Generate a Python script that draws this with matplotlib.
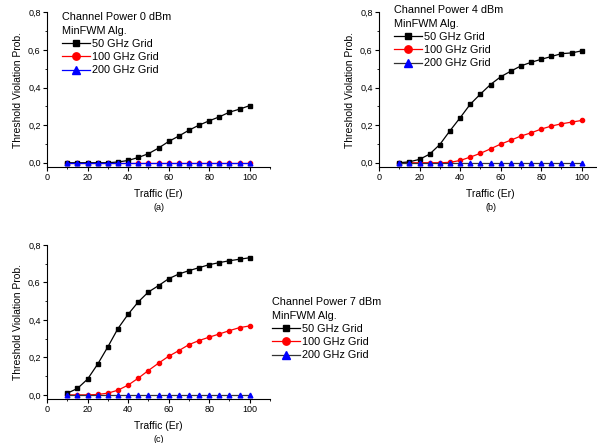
import matplotlib
matplotlib.use("Agg")
import matplotlib.pyplot as plt
from matplotlib.lines import Line2D
from matplotlib.ticker import MultipleLocator, FuncFormatter

plt.rcParams['font.family'] = ['Liberation Sans', 'DejaVu Sans']

traffic = [10, 15, 20, 25, 30, 35, 40, 45, 50, 55, 60, 65, 70, 75, 80, 85, 90, 95, 100]

# Panel (a): Channel Power 0 dBm
a_50 = [0, 0, 0, 0, 0, 0.004, 0.012, 0.028, 0.048, 0.078, 0.113, 0.142, 0.173, 0.200, 0.223, 0.244, 0.269, 0.285, 0.304]
a_100 = [0] * 19
a_200 = [0] * 19

# Panel (b): Channel Power 4 dBm
b_50 = [0, 0.005, 0.018, 0.046, 0.097, 0.170, 0.239, 0.311, 0.365, 0.416, 0.457, 0.487, 0.515, 0.534, 0.550, 0.565, 0.580, 0.584, 0.595]
b_100 = [0, 0, 0, 0, 0, 0.002, 0.012, 0.030, 0.050, 0.074, 0.099, 0.120, 0.142, 0.159, 0.179, 0.195, 0.207, 0.216, 0.225]
b_200 = [0] * 19

# Panel (c): Channel Power 7 dBm
c_50 = [0.009, 0.034, 0.084, 0.164, 0.256, 0.354, 0.430, 0.496, 0.549, 0.583, 0.620, 0.645, 0.663, 0.679, 0.695, 0.706, 0.716, 0.724, 0.732]
c_100 = [0, 0, 0, 0.002, 0.009, 0.025, 0.052, 0.089, 0.130, 0.169, 0.206, 0.236, 0.268, 0.290, 0.308, 0.325, 0.343, 0.359, 0.368]
c_200 = [0] * 19

series_labels = ["50 GHz Grid", "100 GHz Grid", "200 GHz Grid"]
titles = ["Channel Power 0 dBm\nMinFWM Alg.", "Channel Power 4 dBm\nMinFWM Alg.", "Channel Power 7 dBm\nMinFWM Alg."]
panel_tags = ["(a)", "(b)", "(c)"]

fig = plt.figure(figsize=(5.97, 4.43), dpi=100)

W, H = 597, 443
def pos(left_px, right_px, bottom_px, top_px):
    return [left_px / W, 1 - bottom_px / H, (right_px - left_px) / W, (bottom_px - top_px) / H]

axes_pos = [pos(47, 270, 166.7, 12.3), pos(379, 602, 166.7, 12.3), pos(47, 270, 398.8, 245)]
data = [(a_50, a_100, a_200), (b_50, b_100, b_200), (c_50, c_100, c_200)]
line200_colors = ['#0000ff', '#333333', '#333333']
legend_anchor = [(62 / W, 1 - 12 / H), (394 / W, 1 - 5 / H), (272 / W, 1 - 297 / H)]

fmt = FuncFormatter(lambda v, p: ("%.1f" % v).replace('.', ','))

for i in range(3):
    ax = fig.add_axes(axes_pos[i])
    s50, s100, s200 = data[i]
    ax.plot(traffic, s100, color='#ff0000', lw=0.9, marker='o', ms=3.0, zorder=3)
    ax.plot(traffic, s50, color='black', lw=0.9, marker='s', ms=2.8, zorder=4)
    ax.plot(traffic, s200, color=line200_colors[i], lw=0.9, marker='^', ms=3.4,
            mfc='#0000ff', mec='#0000ff', zorder=5)
    ax.set_xlim(0, 110)
    ax.set_ylim(-0.021, 0.8)
    ax.spines['top'].set_visible(False)
    ax.spines['right'].set_visible(False)
    ax.xaxis.set_major_locator(MultipleLocator(20))
    ax.xaxis.set_minor_locator(MultipleLocator(10))
    ax.yaxis.set_major_locator(MultipleLocator(0.2))
    ax.yaxis.set_minor_locator(MultipleLocator(0.1))
    ax.yaxis.set_major_formatter(fmt)
    ax.tick_params(which='major', direction='out', length=3, width=0.8, labelsize=6.5, pad=1.5)
    ax.tick_params(which='minor', direction='out', length=1.5, width=0.6)
    ax.set_xlabel("Traffic (Er)", fontsize=7.5, labelpad=5)
    ax.set_ylabel("Threshold Violation Prob.", fontsize=7.5, labelpad=4)
    ax.text(0.5, -0.262, panel_tags[i], transform=ax.transAxes, ha='center', va='center', fontsize=6.5)

    handles = [
        Line2D([], [], color='black', lw=0.9, marker='s', ms=4.8),
        Line2D([], [], color='#ff0000', lw=0.9, marker='o', ms=5.3),
        Line2D([], [], color=line200_colors[i], lw=0.9, marker='^', ms=5.5, mfc='#0000ff', mec='#0000ff'),
    ]
    leg = fig.legend(handles, series_labels, title=titles[i], loc='upper left',
                     bbox_to_anchor=legend_anchor[i], bbox_transform=fig.transFigure,
                     frameon=False, fontsize=7.8, title_fontsize=7.8, alignment='left',
                     handlelength=2.6, handletextpad=0.2, labelspacing=0.3,
                     borderpad=0.0, borderaxespad=0)
    leg.get_title().set_linespacing(1.45)

fig.savefig("out.png", dpi=100)
